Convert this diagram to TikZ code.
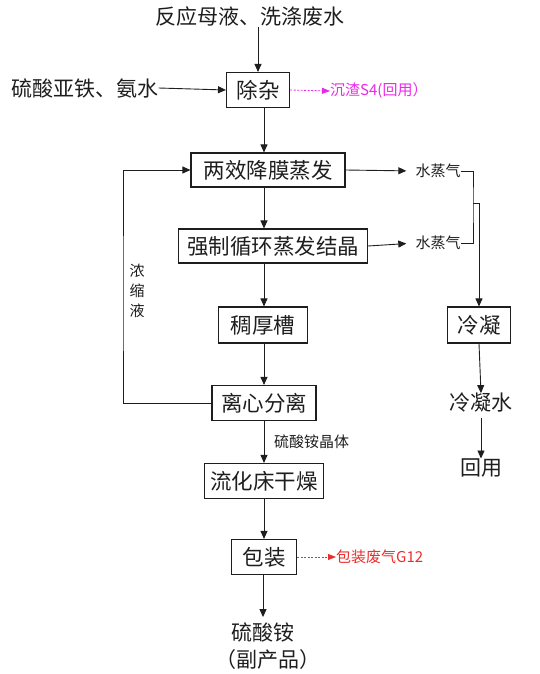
\documentclass[tikz,border=0pt]{standalone}
\usepackage{fontspec}
\setmainfont{Noto Sans CJK SC}
\usetikzlibrary{arrows.meta}
\definecolor{mag}{RGB}{235,40,235}
\definecolor{redc}{RGB}{235,45,45}
\definecolor{ink}{RGB}{30,30,30}
\begin{document}
\begin{tikzpicture}[x=1pt,y=-1pt,
 box/.style={draw=ink, line width=1.1pt, minimum height=35pt, inner sep=0pt, text=ink, font=\fontsize{21.5}{21.5}\selectfont},
 big/.style={inner sep=0pt, text=ink, font=\fontsize{21}{21}\selectfont},
 small/.style={inner sep=0pt, text=ink, font=\fontsize{15}{20}\selectfont},
 arr/.style={-{Triangle[length=8pt,width=7pt]}, line width=0.9pt, draw=ink},
 darr/.style={-{Triangle[length=8pt,width=6pt]}, line width=0.8pt, dash pattern=on 2pt off 1.5pt},
]
\useasboundingbox (0,0) rectangle (540,674);
% nodes
\node[big] (top) at (250,17) {反应母液、洗涤废水};
\node[big] (fe) at (85,88) {硫酸亚铁、氨水};
\node[box, minimum width=63pt] (cz) at (258,90) {除杂};
\node[small, anchor=west, text=mag] (czl) at (330,91) {沉渣S4(回用）};
\node[box, minimum width=154pt, minimum height=34pt] (lx) at (268,170) {两效降膜蒸发};
\node[box, minimum width=189pt, minimum height=34pt] (qz) at (273,246) {强制循环蒸发结晶};
\node[small] (s1) at (438,171) {水蒸气};
\node[small] (s2) at (438,243) {水蒸气};
\node[box, minimum width=89pt, minimum height=36pt] (ch) at (263,325) {稠厚槽};
\node[box, minimum width=104pt] (lxf) at (264,403) {离心分离};
\node[small, align=center] (nsy) at (137,291) {浓\\缩\\液};
\node[small, anchor=west] (jt) at (274,442) {硫酸铵晶体};
\node[box, minimum width=119pt] (lh) at (264,481) {流化床干燥};
\node[box, minimum width=65pt] (bz) at (264,557) {包装};
\node[small, anchor=west, text=redc] (bzl) at (336,557) {包装废气G12};
\node[big] (prod) at (263,632) {硫酸铵};
\node[big] (sub) at (268,660) {（副产品）};
\node[box, minimum width=63pt, minimum height=36pt] (ln) at (479,325) {冷凝};
\node[big] (lns) at (481,403) {冷凝水};
\node[big] (hy) at (481,468) {回用};
% coordinates
\coordinate (sp) at (264,0);
\coordinate (m) at (473,203);
\coordinate (fb) at (123,300);
% connectors
\draw[arr] (top.south -| cz.north) -- (cz.north);
\draw[arr] (fe.east) -- (cz.west);
\draw[darr, mag] (cz.east) -- (czl.west);
\draw[arr] (cz.south -| sp) -- (lx.north -| sp);
\draw[arr] (lx.south -| sp) -- (qz.north -| sp);
\draw[arr] (qz.south -| sp) -- (ch.north -| sp);
\draw[arr] (ch.south -| sp) -- (lxf.north -| sp);
\draw[arr] (lxf.south -| sp) -- (lh.north -| sp);
\draw[arr] (lh.south -| sp) -- (bz.north -| sp);
\draw[arr] (bz.south -| prod) -- ([yshift=5pt]prod.north);
\draw[darr, redc] (bz.east) -- (bzl.west);
\draw[arr, shorten >=9pt] (lx.east) -- (s1.west);
\draw[arr, shorten >=9pt] (qz.east) -- (s2.west);
\draw[line width=0.9pt, draw=ink] (s1.east) -| (m) |- (s2.east);
\draw[arr] (m) -| (ln.north);
\draw[arr] (ln.south) -- (lns.north);
\draw[arr, shorten <=5pt] (lns.south) -- (hy.north);
\draw[arr] (lxf.west) -| (fb) |- (lx.west);
\end{tikzpicture}
\end{document}
